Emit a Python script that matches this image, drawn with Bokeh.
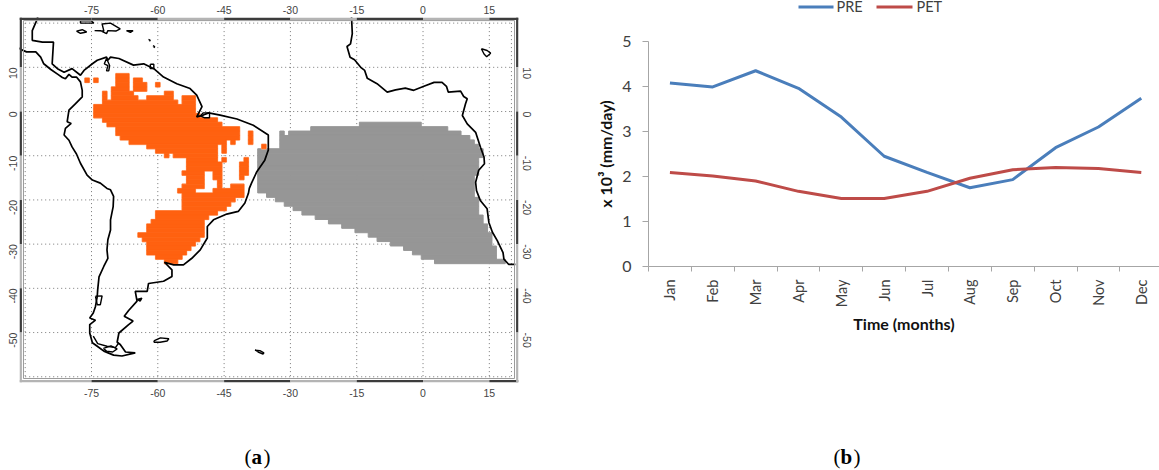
from math import pi
from bokeh.core.properties import value
from bokeh.embed import file_html
from bokeh.resources import INLINE
from bokeh.plotting import figure
from bokeh.layouts import row, column
from bokeh.models import FixedTicker, LinearAxis, Range1d

# ---- panel (b) data
months = ["Jan", "Feb", "Mar", "Apr", "May", "Jun", "Jul", "Aug", "Sep", "Oct", "Nov", "Dec"]
pre = [4.08, 3.99, 4.35, 3.96, 3.32, 2.45, 2.09, 1.75, 1.93, 2.64, 3.10, 3.74]
pet = [2.09, 2.01, 1.90, 1.67, 1.51, 1.51, 1.67, 1.96, 2.15, 2.20, 2.18, 2.09]
y_ticks = [0, 1, 2, 3, 4, 5]

# ---- panel (a) data
lon_ticks = [-75, -60, -45, -30, -15, 0, 15]
lat_ticks = [10, 0, -10, -20, -30, -40, -50]
grid_lons = [-90, -75, -60, -45, -30, -15, 0, 15, 20]
grid_lats = [20, 10, 0, -10, -20, -30, -40, -50, -60]

# orange 1-degree cells: per row from 8.57N going south, runs of column numbers (column 0 = 76.5W)
orange_rows = [
    [(7, 10)],
    [(0, 1), (2, 3), (7, 10), (11, 13)],
    [(7, 10), (11, 14), (16, 17)],
    [(6, 10), (11, 14)],
    [(4, 5), (6, 11), (18, 20)],
    [(4, 5), (6, 12), (14, 20), (22, 25)],
    [(4, 21), (22, 25)],
    [(2, 25)],
    [(2, 25)],
    [(2, 26)],
    [(4, 30)],
    [(5, 31)],
    [(7, 35)],
    [(7, 35), (37, 38)],
    [(8, 35), (37, 38)],
    [(10, 32), (33, 34), (37, 38)],
    [(14, 30), (31, 32), (40, 41)],
    [(16, 30), (31, 32)],
    [(18, 19), (20, 30)],
    [(23, 30), (31, 32), (36, 37)],
    [(23, 31), (35, 37)],
    [(23, 31), (35, 37)],
    [(22, 27), (29, 31), (35, 37)],
    [(23, 27), (29, 31), (35, 36)],
    [(23, 27), (30, 31)],
    [(22, 27), (30, 31), (33, 36)],
    [(21, 25), (29, 36)],
    [(22, 36)],
    [(22, 34)],
    [(22, 33)],
    [(22, 32)],
    [(16, 30)],
    [(16, 28)],
    [(15, 27)],
    [(14, 27)],
    [(14, 27)],
    [(12, 27)],
    [(13, 26)],
    [(14, 25)],
    [(14, 24)],
    [(14, 23)],
    [(16, 22)],
    [(18, 21)],
]

# grey cells: per row from 2.42S going south, runs of column numbers (column 0 = 37.4W)
grey_rows = [
    [(23, 37)],
    [(12, 43)],
    [(5, 6), (7, 46)],
    [(5, 48)],
    [(5, 49)],
    [(5, 50)],
    [(0, 51)],
    [(0, 51)],
    [(0, 50)],
    [(0, 50)],
    [(0, 50)],
    [(0, 50)],
    [(0, 49)],
    [(0, 49)],
    [(0, 49)],
    [(0, 49)],
    [(2, 49)],
    [(4, 50)],
    [(6, 50)],
    [(8, 50)],
    [(10, 50)],
    [(13, 51)],
    [(16, 51)],
    [(19, 52)],
    [(22, 52)],
    [(25, 53)],
    [(27, 53)],
    [(30, 53)],
    [(33, 54)],
    [(35, 54)],
    [(37, 54)],
    [(40, 56)],
]

america_lon = [-92.5, -90.9, -89.7, -87.6, -86.5, -85.8, -84.2, -82.6, -81.6, -80.9, -80.1, -79.4, -78.4, -77.5, -77.1,
               -77.1, -78.6, -80.1, -80.5, -79.6, -80.9, -81.2, -80.1, -79.4, -78.4, -77.5, -76.0, -74.8, -73.0, -71.5,
               -70.7, -70.0, -70.1, -70.7, -70.7, -71.3, -71.5, -71.3, -72.2, -73.3, -73.6, -73.7, -74.1, -74.6, -75.4,
               -74.1, -75.4, -75.4, -74.8, -73.7, -72.2, -70.0, -68.1, -65.1, -67.3, -68.5, -69.2, -68.8, -66.6, -65.6,
               -67.6, -66.6, -64.7, -65.1, -62.4, -62.1, -58.7, -56.8, -56.8, -58.5, -56.4, -54.2, -52.3, -50.4, -48.8,
               -48.8, -47.4, -44.4, -41.8, -40.3, -39.5, -39.3, -38.8, -37.6, -35.8, -35.0, -35.0, -38.4, -42.1, -45.9,
               -48.5, -49.7, -51.2, -50.0, -51.2, -52.7, -55.7, -58.7, -60.9, -63.2, -65.5, -68.8, -70.7, -71.3, -71.6,
               -73.7, -74.8, -76.7, -77.5, -79.4, -81.2, -82.7, -83.9, -83.6, -84.6, -86.1, -88.4, -88.4, -87.4, -87.0]
america_lat = [15.0, 14.0, 13.5, 13.5, 12.3, 10.8, 9.5, 8.4, 7.7, 7.4, 8.4, 7.8, 7.8, 6.7, 4.8,
               3.3, 1.8, 0.3, -2.3, -2.7, -3.8, -5.3, -6.5, -8.0, -9.6, -11.7, -14.4, -15.5, -16.2, -17.4,
               -17.7, -19.2, -21.5, -24.5, -26.8, -29.0, -31.3, -33.2, -35.0, -37.4, -40.3, -41.8, -44.1, -45.6, -46.7,
               -47.2, -48.2, -50.1, -52.3, -53.1, -54.2, -55.1, -55.3, -54.6, -54.4, -52.7, -52.2, -50.1, -48.2, -47.4,
               -46.3, -45.0, -42.9, -40.7, -40.7, -38.9, -38.4, -37.3, -35.8, -34.1, -34.7, -34.7, -33.2, -31.3, -28.6,
               -26.0, -24.5, -23.2, -22.6, -20.7, -18.5, -17.4, -16.2, -13.6, -11.0, -8.7, -5.3, -3.1, -1.7, -0.8,
               -0.3, -0.8, -1.2, 1.1, 3.7, 5.2, 6.3, 7.8, 9.7, 10.8, 10.5, 12.0, 12.3, 11.6, 12.3,
               11.6, 10.8, 9.3, 8.2, 9.7, 8.9, 9.7, 10.8, 15.7, 15.7, 15.7, 16.1, 18.3, 20.6, 22.0]

africa_lon = [-16.2, -16.0, -16.4, -17.2, -16.5, -15.5, -14.1, -13.2, -12.6, -10.4, -8.1, -6.2, -4.0, -2.1, 0.2, 2.5,
              4.3, 5.3, 5.7, 8.5, 9.2, 10.0, 9.6, 8.9, 10.0, 11.9, 13.0, 13.8, 13.9, 12.6, 11.9, 12.1, 13.0, 14.5,
              14.9, 15.7, 16.8, 18.1, 18.3, 19.4, 20.9]
africa_lat = [22.0, 17.6, 15.3, 14.7, 12.3, 11.7, 10.0, 9.3, 7.5, 6.3, 4.4, 4.9, 5.3, 4.8, 5.7, 6.6,
              6.6, 5.7, 4.4, 4.6, 3.4, 2.9, 1.7, -0.9, -2.8, -4.7, -8.1, -10.3, -11.8, -13.3, -16.0, -17.9, -20.2, -22.0,
              -25.1, -27.3, -29.2, -31.9, -33.4, -34.6, -34.6]

# smaller coast features: (lons, lats)
islands = [
    ([-77.5, -75.0, -74.5, -77.5, -77.5], [20.5, 20.5, 20.0, 20.0, 20.5]),
    ([-78.4, -77.1, -76.1, -77.5, -78.4], [18.2, 18.5, 18.0, 17.7, 18.2]),
    ([-74.3, -72.2, -72.6, -70.7, -68.5, -69.5, -71.3, -71.6, -73.0, -74.3], [18.3, 18.2, 19.8, 20.0, 18.7, 18.2, 18.3, 17.6, 18.3, 18.3]),
    ([-67.1, -65.6, -66.2, -67.1], [18.3, 18.3, 17.9, 18.3]),
    ([-62.1, -61.7, -61.9], [16.3, 16.1, 15.9]),
    ([-61.1, -60.7, -60.9], [14.9, 14.7, 14.4]),
    ([-61.7, -60.9, -60.9, -61.7, -61.7], [10.7, 10.7, 9.7, 9.7, 10.7]),
    ([-71.6, -72.1, -71.3, -71.6, -71.1, -70.9, -71.6], [12.0, 10.8, 10.4, 9.2, 9.2, 10.4, 12.0]),
    ([-50.4, -49.7, -48.3, -48.3, -49.5, -50.4], [-1.0, -0.3, -0.3, -1.4, -1.4, -1.0]),
    ([-60.9, -59.4, -57.5, -57.9, -59.5, -60.8, -60.9], [-51.9, -51.2, -51.4, -51.9, -52.2, -52.2, -51.9]),
    ([-38.0, -36.9, -36.0, -36.2, -37.3, -38.0], [-54.0, -54.1, -54.6, -54.9, -54.4, -54.0]),
    ([-74.1, -72.6, -73.0, -73.7, -74.1], [-41.8, -41.7, -43.7, -43.7, -41.8]),
    ([-64.7, -63.6, -64.0, -64.7], [-42.5, -42.2, -42.9, -42.5]),
    ([-74.6, -73.6, -71.5, -69.6, -68.8], [-50.8, -52.5, -53.1, -53.4, -52.3]),
    ([-72.3, -70.6, -69.2, -70.2, -71.6, -72.3], [-53.6, -53.0, -53.7, -54.4, -54.2, -53.6]),
    ([13.2, 14.5, 15.3, 14.4, 13.8, 13.2], [14.2, 13.8, 13.2, 12.4, 13.0, 14.2]),
]

MAP_FONT = "Liberation Sans"
CHART_FONT = "Lato"
CAPTION_FONT = "Liberation Serif"

lon_start, lon_end, lat_start, lat_end = -91.29, 21.6, -61.3, 21.27


def cells(rows, first_lon, first_lat):
    left, right, top, bottom = [], [], [], []
    for r, runs in enumerate(rows):
        for c0, c1 in runs:
            left.append(first_lon + c0)
            right.append(first_lon + c1)
            top.append(first_lat - r)
            bottom.append(first_lat - r - 1)
    return left, right, top, bottom


def strip(width, height, x0, y0):
    """A text-and-key band whose data coordinates run along the page's pixels."""
    s = figure(width=width, height=height, output_backend="svg", toolbar_location=None,
               x_range=Range1d(x0, x0 + width), y_range=Range1d(y0 + height, y0),
               min_border_left=0, min_border_right=0, min_border_top=0, min_border_bottom=0,
               x_axis_location=None, y_axis_location=None, outline_line_color=None)
    s.grid.visible = False
    return s


def caption(s, parts):
    for txt, x, bold in parts:
        s.text(x=[x], y=[456], text=[txt], text_font=value(CAPTION_FONT), text_font_size="21px",
               text_color="#000000", text_baseline="middle",
               text_font_style="bold" if bold else "normal")


pa = figure(width=580, height=430, output_backend="svg", toolbar_location=None,
            x_range=Range1d(lon_start, lon_end), y_range=Range1d(lat_start, lat_end),
            min_border_left=19, min_border_right=62, min_border_top=17, min_border_bottom=48,
            x_axis_location=None, y_axis_location=None, outline_line_color=None)
pa.grid.visible = False

# dotted graticule
pa.multi_line([[x, x] for x in grid_lons], [[20, -60] for _ in grid_lons],
              line_color="#777777", line_width=1, line_dash="1 3")
pa.multi_line([[-90, 20] for _ in grid_lats], [[y, y] for y in grid_lats],
              line_color="#777777", line_width=1, line_dash="1 3")

# model cells
l, r_, t, b = cells(grey_rows, -37.4, -2.42)
pa.quad(left=l, right=r_, top=t, bottom=b, fill_color="#969696", line_color="#969696", line_width=1)
l, r_, t, b = cells(orange_rows, -76.5, 8.57)
pa.quad(left=l, right=r_, top=t, bottom=b, fill_color="#ffb48c", line_color="#ffc8aa", line_width=1.6)
pa.quad(left=l, right=r_, top=t, bottom=b, fill_color="#ff6110", line_color="#ff6110", line_width=0.7)

# coast
pa.line(america_lon, america_lat, line_color="#000000", line_width=1.7)
pa.line(africa_lon, africa_lat, line_color="#000000", line_width=1.7)
for xs, ys in islands:
    pa.line(xs, ys, line_color="#000000", line_width=1.4)

# checkered map border, alternating at the tick positions
thick = 0.55
x_edges = [lon_start] + lon_ticks + [lon_end]
y_edges = [lat_end] + lat_ticks + [lat_start]
dark, light = "#3c3c3c", "#b4b4b4"
for i in range(len(x_edges) - 1):
    top_col = dark if i in (0, 1, 3, 5, 7) else light
    bot_col = light if i in (0, 2, 4, 6) else dark
    pa.quad(left=[x_edges[i]], right=[x_edges[i + 1]], top=[lat_end], bottom=[lat_end - thick],
            fill_color=top_col, line_color=None)
    pa.quad(left=[x_edges[i]], right=[x_edges[i + 1]], top=[lat_start + thick], bottom=[lat_start],
            fill_color=bot_col, line_color=None)
for i in range(len(y_edges) - 1):
    col = dark if i % 2 == 0 else light
    pa.quad(left=[lon_start], right=[lon_start + thick], top=[y_edges[i]], bottom=[y_edges[i + 1]],
            fill_color=col, line_color=None)
    pa.quad(left=[lon_end - thick], right=[lon_end], top=[y_edges[i]], bottom=[y_edges[i + 1]],
            fill_color=col, line_color=None)
pa.line([lon_start + 0.9, lon_end - 0.9, lon_end - 0.9, lon_start + 0.9, lon_start + 0.9],
        [lat_end - 0.7, lat_end - 0.7, lat_start + 0.9, lat_start + 0.9, lat_end - 0.7],
        line_color="#9a9a9a", line_width=1)


def map_axis(where, ticks, orientation, standoff):
    ax = LinearAxis(ticker=FixedTicker(ticks=ticks),
                    major_label_overrides={v: str(v) for v in ticks},
                    axis_line_color=None, major_tick_line_color=None, minor_tick_line_color=None,
                    major_label_text_font=MAP_FONT, major_label_text_font_size="10.5px",
                    major_label_text_color="#444444", major_label_standoff=standoff,
                    major_label_orientation=orientation)
    pa.add_layout(ax, where)


map_axis("above", lon_ticks, "horizontal", -2)
map_axis("below", lon_ticks, "horizontal", 0)
map_axis("left", lat_ticks, pi / 2, 0)
map_axis("right", lat_ticks, -pi / 2, 2)

cap_a = strip(580, 40, 0, 430)
caption(cap_a, [("(", 244, False), ("a", 251, True), (")", 263, False)])

# ---- panel (b)
pb = figure(width=579, height=416, output_backend="svg", toolbar_location=None,
            x_range=Range1d(0, 511 / 42.85), y_range=Range1d(0, 5),
            min_border_left=68, min_border_right=0, min_border_top=27, min_border_bottom=164,
            x_axis_location=None, y_axis_location=None, outline_line_color=None)
pb.grid.visible = False
xs = [i + 0.5 for i in range(len(months))]
PRE_COLOR, PET_COLOR = "#4a7ebb", "#be4b48"
pb.line(xs, pre, line_color=PRE_COLOR, line_width=3)
pb.line(xs, pet, line_color=PET_COLOR, line_width=3)

xax = LinearAxis(ticker=FixedTicker(ticks=xs, minor_ticks=list(range(13))),
                 major_label_overrides={x: m for x, m in zip(xs, months)},
                 axis_label="Time (months)", axis_label_text_font=CHART_FONT, axis_label_text_font_size="16px",
                 axis_label_text_font_style="bold", axis_label_text_color="#111111", axis_label_standoff=4,
                 axis_line_color="#a6a6a6", major_tick_line_color=None,
                 minor_tick_line_color="#a6a6a6", minor_tick_in=0, minor_tick_out=5,
                 major_label_text_font=CHART_FONT, major_label_text_font_size="14.5px",
                 major_label_text_color="#404040", major_label_standoff=7,
                 major_label_orientation=pi / 2)
pb.add_layout(xax, "below")
yax = LinearAxis(ticker=FixedTicker(ticks=y_ticks),
                 major_label_overrides={v: str(v) for v in y_ticks},
                 axis_label="x 10\u00b3 (mm/day)", axis_label_text_font=CHART_FONT, axis_label_text_font_size="16px",
                 axis_label_text_font_style="bold", axis_label_text_color="#111111", axis_label_standoff=4,
                 axis_line_color="#a6a6a6", major_tick_line_color="#a6a6a6", major_tick_in=0, major_tick_out=6,
                 minor_tick_line_color=None,
                 major_label_text_font=CHART_FONT, major_label_text_font_size="16px",
                 major_label_text_color="#404040", major_label_standoff=11)
pb.add_layout(yax, "left")

# legend band above panel (b)
key = strip(579, 14, 580, 0)
key.line([798, 833], [6.5, 6.5], line_color=PRE_COLOR, line_width=3)
key.line([876, 912], [6.5, 6.5], line_color=PET_COLOR, line_width=3)
key.text(x=[836, 916], y=[6, 6], text=["PRE", "PET"], text_font=value(CHART_FONT), text_font_size="14.5px",
         text_color="#404040", text_baseline="middle")

cap_b = strip(579, 40, 580, 430)
caption(cap_b, [("(", 833, False), ("b", 840, True), (")", 853, False)])

left_col = column(column(pa), column(cap_a), spacing=0)
right_col = column(column(key), column(pb), column(cap_b), spacing=0)
page = row(left_col, right_col, spacing=0)
open("out.html", "w").write(file_html(page, INLINE))
